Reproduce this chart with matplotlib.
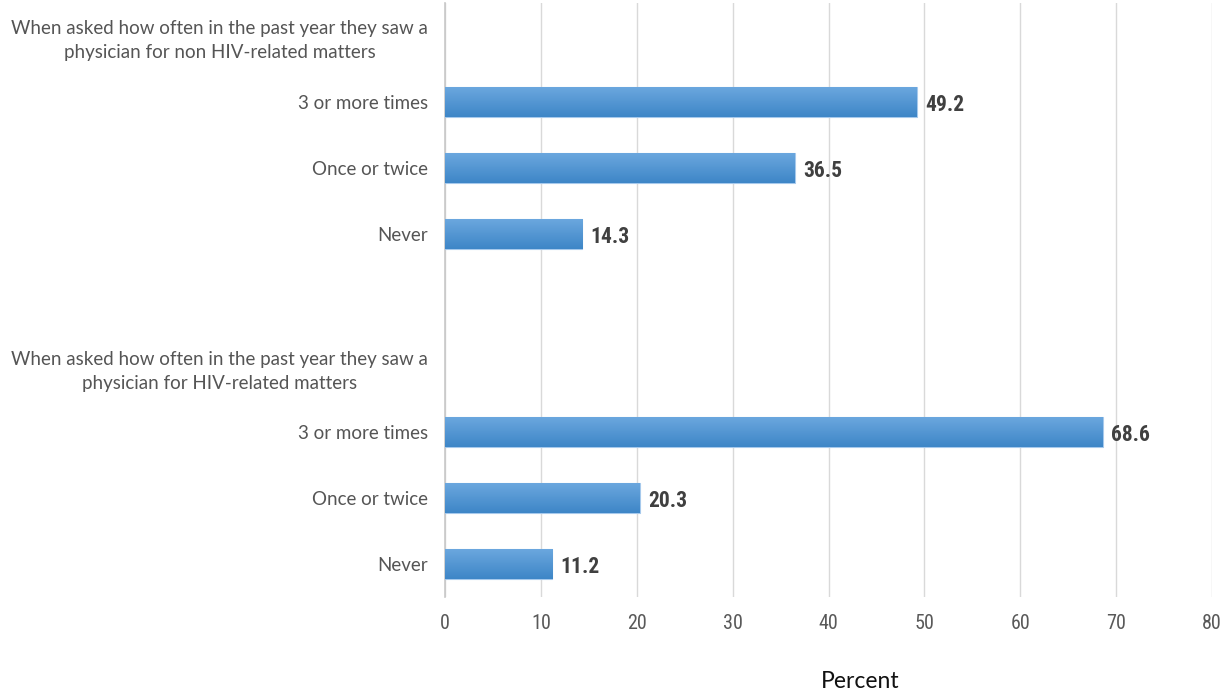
import numpy as np
import matplotlib
matplotlib.use("Agg")
from matplotlib import pyplot as plt
from matplotlib import font_manager

# data
headings = ["When asked how often in the past year they saw a\nphysician for non HIV-related matters",
            "When asked how often in the past year they saw a\nphysician for HIV-related matters"]
answers = ["3 or more times", "Once or twice", "Never"]
non_hiv = [49.2, 36.5, 14.3]
hiv = [68.6, 20.3, 11.2]
xticks = [0, 10, 20, 30, 40, 50, 60, 70, 80]

# narrow font for the numbers, if one is around
names = {f.name for f in font_manager.fontManager.ttflist}
narrow = "DejaVu Sans"
for cand in ["Liberation Sans Narrow", "Roboto Condensed", "Open Sans Condensed",
             "Noto Sans Condensed", "DejaVu Sans Condensed"]:
    if cand in names:
        narrow = cand
        break

# build category rows: heading, answers, blank gap, heading, answers
labels = [headings[0]] + answers + [""] + [headings[1]] + answers
values = [None] + non_hiv + [None] + [None] + hiv
ypos = np.arange(len(labels))

fig = plt.figure(figsize=(12.32, 6.96), dpi=100)
ax = fig.add_axes([0.3612, 0.1422, 0.6226, 0.8535])

bar_y = [y for y, v in zip(ypos, values) if v is not None]
bar_v = [v for v in values if v is not None]
bars = ax.barh(bar_y, bar_v, height=0.46, color="#5096d6",
               edgecolor="#a6c9ec", linewidth=0.8, zorder=3)

# vertical gradient on each bar, clipped to the bar
grad = np.linspace(0, 1, 64).reshape(-1, 1)
cmap = matplotlib.colors.LinearSegmentedColormap.from_list("g", ["#6ca8df", "#3e86c7"])
for b in bars:
    x0, y0 = b.get_x(), b.get_y()
    im = ax.imshow(grad, cmap=cmap, aspect="auto", zorder=3.5,
                   extent=[x0, x0 + b.get_width(), y0 + b.get_height(), y0],
                   origin="upper")
    im.set_clip_path(b)

for y, v in zip(bar_y, bar_v):
    ax.text(v + 0.85, y + 0.04, f"{v}", va="center", ha="left", fontsize=15.5,
            fontweight="bold", family=narrow, fontstretch="condensed",
            color="#404040", zorder=4)

ax.set_ylim(len(labels) - 0.5, -0.5)
ax.set_xlim(0, 80)
ax.set_yticks(ypos)
ax.set_yticklabels(labels, fontsize=13.5, family="Lato", color="#555555",
                   multialignment="center", linespacing=1.5)
ax.set_xticks(xticks)
ax.set_xticklabels([str(t) for t in xticks], fontsize=14.5, family=narrow,
                   fontstretch="condensed", color="#595959")
ax.tick_params(axis="y", length=0, pad=12)
ax.tick_params(axis="x", length=0, pad=12)
ax.grid(axis="x", color="#d9d9d9", linewidth=1, zorder=0)
ax.set_axisbelow(True)
for s in ["top", "right", "bottom"]:
    ax.spines[s].set_visible(False)
ax.spines["left"].set_color("#c8c8c8")
ax.spines["left"].set_linewidth(1.2)

fig.text(860 / 1232, 1 - 681 / 696, "Percent", ha="center", va="center",
         fontsize=16.5, family="Lato", color="#111111")

fig.savefig("out.png", dpi=100)
